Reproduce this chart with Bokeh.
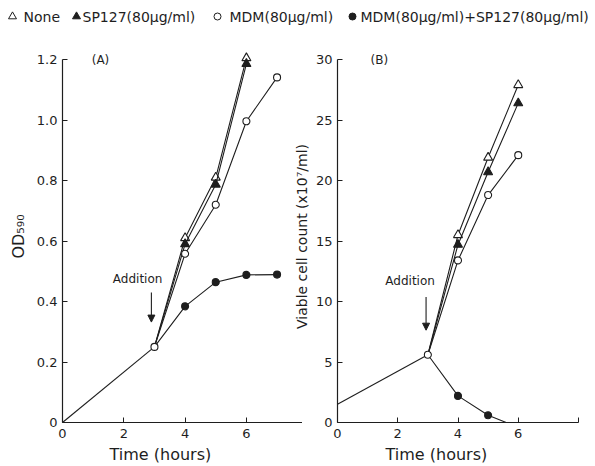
from bokeh.plotting import figure
from bokeh.layouts import column, row
from bokeh.models import (FixedTicker, Label, Arrow, NormalHead, Range1d, Title,
                          PrintfTickFormatter)
from bokeh.core.properties import value
from bokeh.embed import file_html
from bokeh.resources import INLINE

FONT = "DejaVu Sans"
INK = "#1e1e1e"

# ---------------- data ----------------
legend_labels = ["None", "SP127(80μg/ml)", "MDM(80μg/ml)", "MDM(80μg/ml)+SP127(80μg/ml)"]

# Panel A : OD590
a_pre_time = [0, 3]
a_pre = [0.0, 0.25]
a_time = [3, 4, 5, 6]
a_none = [0.25, 0.61, 0.81, 1.205]
a_sp127 = [0.25, 0.59, 0.787, 1.186]
a_time_long = [3, 4, 5, 6, 7]
a_mdm = [0.25, 0.558, 0.72, 0.996, 1.141]
a_both = [0.25, 0.384, 0.464, 0.488, 0.489]
a_yticks = [0, 0.2, 0.4, 0.6, 0.8, 1.0, 1.2]

# Panel B : viable cell count (x10^7/ml)
b_pre_time = [0, 3]
b_pre = [1.5, 5.6]
b_time = [3, 4, 5, 6]
b_none = [5.6, 15.5, 21.9, 27.9]
b_sp127 = [5.6, 14.7, 20.7, 26.4]
b_mdm = [5.6, 13.4, 18.8, 22.1]
b_time_both = [3, 4, 5, 5.6]
b_both = [5.6, 2.2, 0.6, 0.0]
b_yticks = [0, 5, 10, 15, 20, 25, 30]

x_ticks = [0, 2, 4, 6]

# ---------------- helpers ----------------
def style_axes(p, yticks, x_end_tick, y_top):
    for ax in (p.xaxis[0], p.yaxis[0]):
        ax.axis_line_color = INK
        ax.axis_line_width = 1.2
        ax.major_tick_in = 5
        ax.major_tick_out = 0
        ax.minor_tick_in = 5
        ax.minor_tick_out = 0
        ax.major_tick_line_color = INK
        ax.minor_tick_line_color = INK
        ax.major_label_text_font = FONT
        ax.major_label_text_font_size = "13px"
        ax.major_label_text_color = INK
        ax.axis_label_text_font = FONT
        ax.axis_label_text_font_style = "normal"
        ax.axis_label_text_color = INK
    p.xaxis[0].ticker = FixedTicker(ticks=x_ticks, minor_ticks=[x_end_tick])
    p.xaxis[0].major_label_standoff = 6
    p.yaxis[0].ticker = FixedTicker(ticks=yticks, minor_ticks=[])
    p.yaxis[0].bounds = (0, y_top)
    p.yaxis[0].major_label_standoff = 5
    p.xgrid.visible = False
    p.ygrid.visible = False
    p.outline_line_color = None


def series(p, t, y, marker, fill, size, marks=slice(1, None)):
    p.line(t, y, line_color=INK, line_width=1.1)
    p.scatter(t[marks], y[marks], marker=marker, size=size,
              fill_color=fill, line_color=INK, line_width=1.1)


def text_label(p, x, y, txt, size="13px"):
    p.add_layout(Label(x=x, y=y, text=txt, text_font=FONT, text_font_size=size,
                       text_color=INK, text_align="center", text_baseline="middle"))


def addition_arrow(p, x, y0, y1):
    p.add_layout(Arrow(x_start=x, y_start=y0, x_end=x, y_end=y1,
                       line_color=INK, line_width=1.1,
                       end=NormalHead(size=7, fill_color=INK, line_color=INK)))


def x_title(p, offset):
    p.add_layout(Title(text="Time (hours)", align="left", offset=offset, standoff=4,
                       text_font=FONT, text_font_size="16px", text_font_style="normal",
                       text_color=INK), "below")


# ---------------- legend strip ----------------
leg = figure(width=595, height=30, x_range=Range1d(0, 595), y_range=Range1d(0, 30),
             output_backend="svg", toolbar_location=None, min_border=0)
leg.axis.visible = False
leg.grid.visible = False
leg.outline_line_color = None
leg_marker_x = [12, 76, 217, 352]
leg_text_x = [23, 82, 229, 360]
leg_markers = ["triangle", "triangle", "circle", "circle"]
leg_fills = ["white", INK, "white", INK]
leg_sizes = [8, 8, 7, 7]
for mx, tx, mk, fc, sz, lab in zip(leg_marker_x, leg_text_x, leg_markers, leg_fills, leg_sizes, legend_labels):
    leg.scatter([mx], [14], marker=mk, size=sz, fill_color=fc, line_color=INK, line_width=1)
    leg.text([tx], [14], text=[lab], text_font=value(FONT), text_font_size="14px",
             text_color=INK, text_baseline="middle", text_align="left")

# ---------------- panel A ----------------
pa = figure(width=302, height=436, x_range=Range1d(0, 7.83), y_range=Range1d(0, 1.23),
            output_backend="svg", toolbar_location=None,
            min_border_left=62, min_border_right=0, min_border_top=20, min_border_bottom=44)
style_axes(pa, a_yticks, 7.83, 1.2)
pa.yaxis[0].axis_label = "OD₅₉₀"
pa.yaxis[0].axis_label_text_font_size = "16px"
pa.yaxis[0].axis_label_standoff = 6
pa.yaxis[0].formatter = PrintfTickFormatter(format="%.1f")
pa.yaxis[0].major_label_overrides = {0: "0"}
pa.line(a_pre_time, a_pre, line_color=INK, line_width=1.1)
series(pa, a_time, a_none, "triangle", "white", 9)
series(pa, a_time, a_sp127, "triangle", INK, 9)
series(pa, a_time_long, a_both, "circle", INK, 7)
series(pa, a_time_long, a_mdm, "circle", "white", 7)
pa.scatter(a_pre_time[-1:], a_pre[-1:], marker="circle", size=7, fill_color="white",
           line_color=INK, line_width=1.1)
text_label(pa, 1.24, 1.2, "(A)", "12px")
text_label(pa, 2.45, 0.473, "Addition", "12px")
addition_arrow(pa, 2.9, 0.43, 0.332)
x_title(pa, 47)

# ---------------- panel B ----------------
pb = figure(width=305, height=436, x_range=Range1d(0, 8), y_range=Range1d(0, 30.75),
            output_backend="svg", toolbar_location=None,
            min_border_left=46, min_border_right=17, min_border_top=20, min_border_bottom=44)
pb.margin = (0, 0, 0, -12)
pb.border_fill_color = None
style_axes(pb, b_yticks, 8, 30)
pb.yaxis[0].axis_label = "Viable cell count (x10⁷/ml)"
pb.yaxis[0].axis_label_text_font_size = "14px"
pb.yaxis[0].axis_label_standoff = 3
pb.line(b_pre_time, b_pre, line_color=INK, line_width=1.1)
series(pb, b_time, b_none, "triangle", "white", 9)
series(pb, b_time, b_sp127, "triangle", INK, 9)
series(pb, b_time, b_mdm, "circle", "white", 7)
series(pb, b_time_both, b_both, "circle", INK, 7, marks=slice(1, -1))
pb.scatter(b_pre_time[-1:], b_pre[-1:], marker="circle", size=7, fill_color="white",
           line_color=INK, line_width=1.1)
text_label(pb, 1.39, 30, "(B)", "12px")
text_label(pb, 2.41, 11.7, "Addition", "12px")
addition_arrow(pb, 2.94, 10.38, 7.63)
x_title(pb, 48)

layout = column(leg, row(pa, pb, spacing=0), spacing=0)
open("out.html", "w").write(file_html(layout, INLINE))
